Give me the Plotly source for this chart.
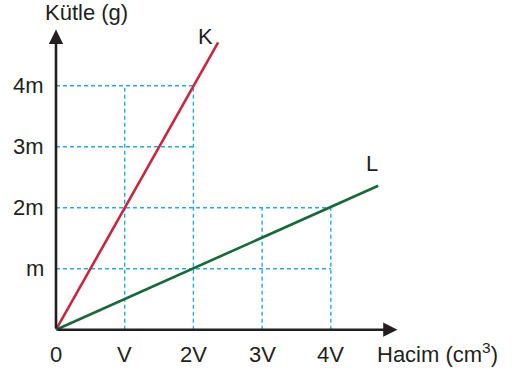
import plotly.graph_objects as go

# data (x in units of V, y in units of m)
k_x = [0, 2.36]
k_y = [0, 4.71]
l_x = [0, 4.69]
l_y = [0, 2.36]

x_ticks = [0, 1, 2, 3, 4]
x_labels = ['0', 'V', '2V', '3V', '4V']
y_ticks = [1, 2, 3, 4]
y_labels = ['m', '2m', '3m', '4m']

# dashed guide lines: horizontal (y, x_end) and vertical (x, y_end)
h_guides = [(1, 4), (2, 4), (3, 2), (4, 2)]
v_guides = [(1, 4), (2, 4), (3, 2), (4, 2)]

blue = '#29abe2'
dark = '#231f20'
font = dict(family='Liberation Sans, Arial, sans-serif', size=22, color=dark)

fig = go.Figure()

for y, xe in h_guides:
    fig.add_trace(go.Scatter(x=[0, xe], y=[y, y], mode='lines',
                             line=dict(color=blue, width=1.4, dash='4px,3px'), hoverinfo='skip'))
for x, ye in v_guides:
    fig.add_trace(go.Scatter(x=[x, x], y=[0, ye], mode='lines',
                             line=dict(color=blue, width=1.4, dash='4px,3px'), hoverinfo='skip'))

fig.add_trace(go.Scatter(x=k_x, y=k_y, mode='lines', line=dict(color='#c7283f', width=2.6)))
fig.add_trace(go.Scatter(x=l_x, y=l_y, mode='lines', line=dict(color='#17693a', width=2.6)))

# axes with arrows
fig.add_annotation(x=4.97, y=0, ax=0, ay=0, xref='x', yref='y', axref='x', ayref='y',
                   showarrow=True, arrowhead=2, arrowsize=1.1, arrowwidth=2.6, arrowcolor=dark, text='')
fig.add_annotation(x=0, y=4.92, ax=0, ay=0, xref='x', yref='y', axref='x', ayref='y',
                   showarrow=True, arrowhead=2, arrowsize=1.1, arrowwidth=2.6, arrowcolor=dark, text='')

for x, t in zip(x_ticks, x_labels):
    fig.add_annotation(x=x, y=-0.40, text=t, showarrow=False, font=font)
for y, t in zip(y_ticks, y_labels):
    fig.add_annotation(x=-0.15, y=y, text=t, showarrow=False, xanchor='right', font=font)

fig.add_annotation(x=0.44, y=5.2, text='Kütle (g)', showarrow=False, font=font)
fig.add_annotation(x=5.55, y=-0.38, text='Hacim (cm<sup>3</sup>)', showarrow=False, font=font)
fig.add_annotation(x=2.17, y=4.8, text='K', showarrow=False, font=font)
fig.add_annotation(x=4.6, y=2.73, text='L', showarrow=False, font=font)

fig.update_xaxes(range=[-0.815, 6.768], visible=False)
fig.update_yaxes(range=[-0.677, 5.405], visible=False)
fig.update_layout(width=521, height=371, margin=dict(l=0, r=0, t=0, b=0),
                  showlegend=False, plot_bgcolor='white', paper_bgcolor='white')

# drop the page's default body margin so the figure sits at the top-left corner
fig.write_html("out.html", config={'displayModeBar': False},
               post_script="document.body.style.margin='0';")
